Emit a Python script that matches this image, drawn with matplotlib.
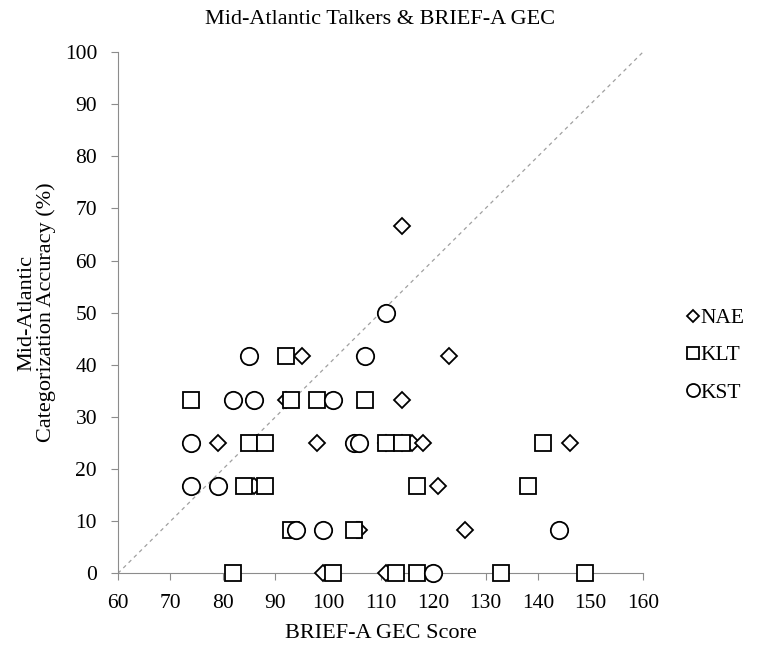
import matplotlib.pyplot as plt

plt.rcParams['font.family'] = ['Liberation Serif', 'DejaVu Serif']

# BRIEF-A GEC score vs. Mid-Atlantic categorization accuracy (%)
nae_x = [123, 95, 107, 92, 114, 79, 98, 111, 114, 116, 118, 146, 86, 121, 105.5, 106, 126, 99, 111, 114]
nae_y = [41.67, 41.67, 41.67, 33.33, 33.33, 25, 25, 25, 25, 25, 25, 25, 16.67, 16.67, 8.33, 8.33, 8.33, 0, 0, 66.67]

klt_x = [92, 74, 93, 98, 107, 85, 88, 111, 114, 141, 84, 88, 117, 138, 93, 105, 82, 101, 113, 117, 133, 149]
klt_y = [41.67, 33.33, 33.33, 33.33, 33.33, 25, 25, 25, 25, 25, 16.67, 16.67, 16.67, 16.67, 8.33, 8.33, 0, 0, 0, 0, 0, 0]

kst_x = [111, 85, 107, 82, 86, 101, 74, 105, 106, 74, 79, 94, 99, 144, 120]
kst_y = [50, 41.67, 41.67, 33.33, 33.33, 33.33, 25, 25, 25, 16.67, 16.67, 8.33, 8.33, 8.33, 0]

fig = plt.figure(figsize=(7.61, 6.5), dpi=100)
ax = fig.add_axes([0.155, 0.118, 0.69, 0.802])

grey = '#8c8c8c'
ax.plot([60, 160], [0, 100], ls=(0, (3, 3)), color='#a0a0a0', lw=0.9, zorder=1)

style = dict(ls='none', mfc='white', mec='black', mew=1.3, zorder=3, clip_on=False)
ax.plot(nae_x, nae_y, marker='D', ms=8.5, label='NAE', **style)
ax.plot(klt_x, klt_y, marker='s', ms=12, label='KLT', **style)
ax.plot(kst_x, kst_y, marker='o', ms=12.5, label='KST', **style)

ax.set_xlim(60, 160)
ax.set_ylim(0, 100)
ax.set_xticks(range(60, 161, 10))
ax.set_yticks(range(0, 101, 10))
ax.spines['top'].set_visible(False)
ax.spines['right'].set_visible(False)
for s in ['left', 'bottom']:
    ax.spines[s].set_color(grey)
ax.tick_params(colors=grey, labelcolor='black', labelsize=15.5, direction='out', length=5)
ax.tick_params(axis='x', pad=10)
ax.tick_params(axis='y', pad=10)

ax.set_title('Mid-Atlantic Talkers & BRIEF-A GEC', fontsize=16, pad=20)
ax.set_xlabel('BRIEF-A GEC Score', fontsize=16, labelpad=8)
ax.set_ylabel('Mid-Atlantic\nCategorization Accuracy (%)', fontsize=16, labelpad=6,
              linespacing=1.05)

leg = ax.legend(loc='center left', bbox_to_anchor=(1.045, 0.418), frameon=False,
                fontsize=15.5, markerscale=0.75, handlelength=0.6, handletextpad=0.05,
                labelspacing=0.8)

fig.savefig('out.png', dpi=100)
